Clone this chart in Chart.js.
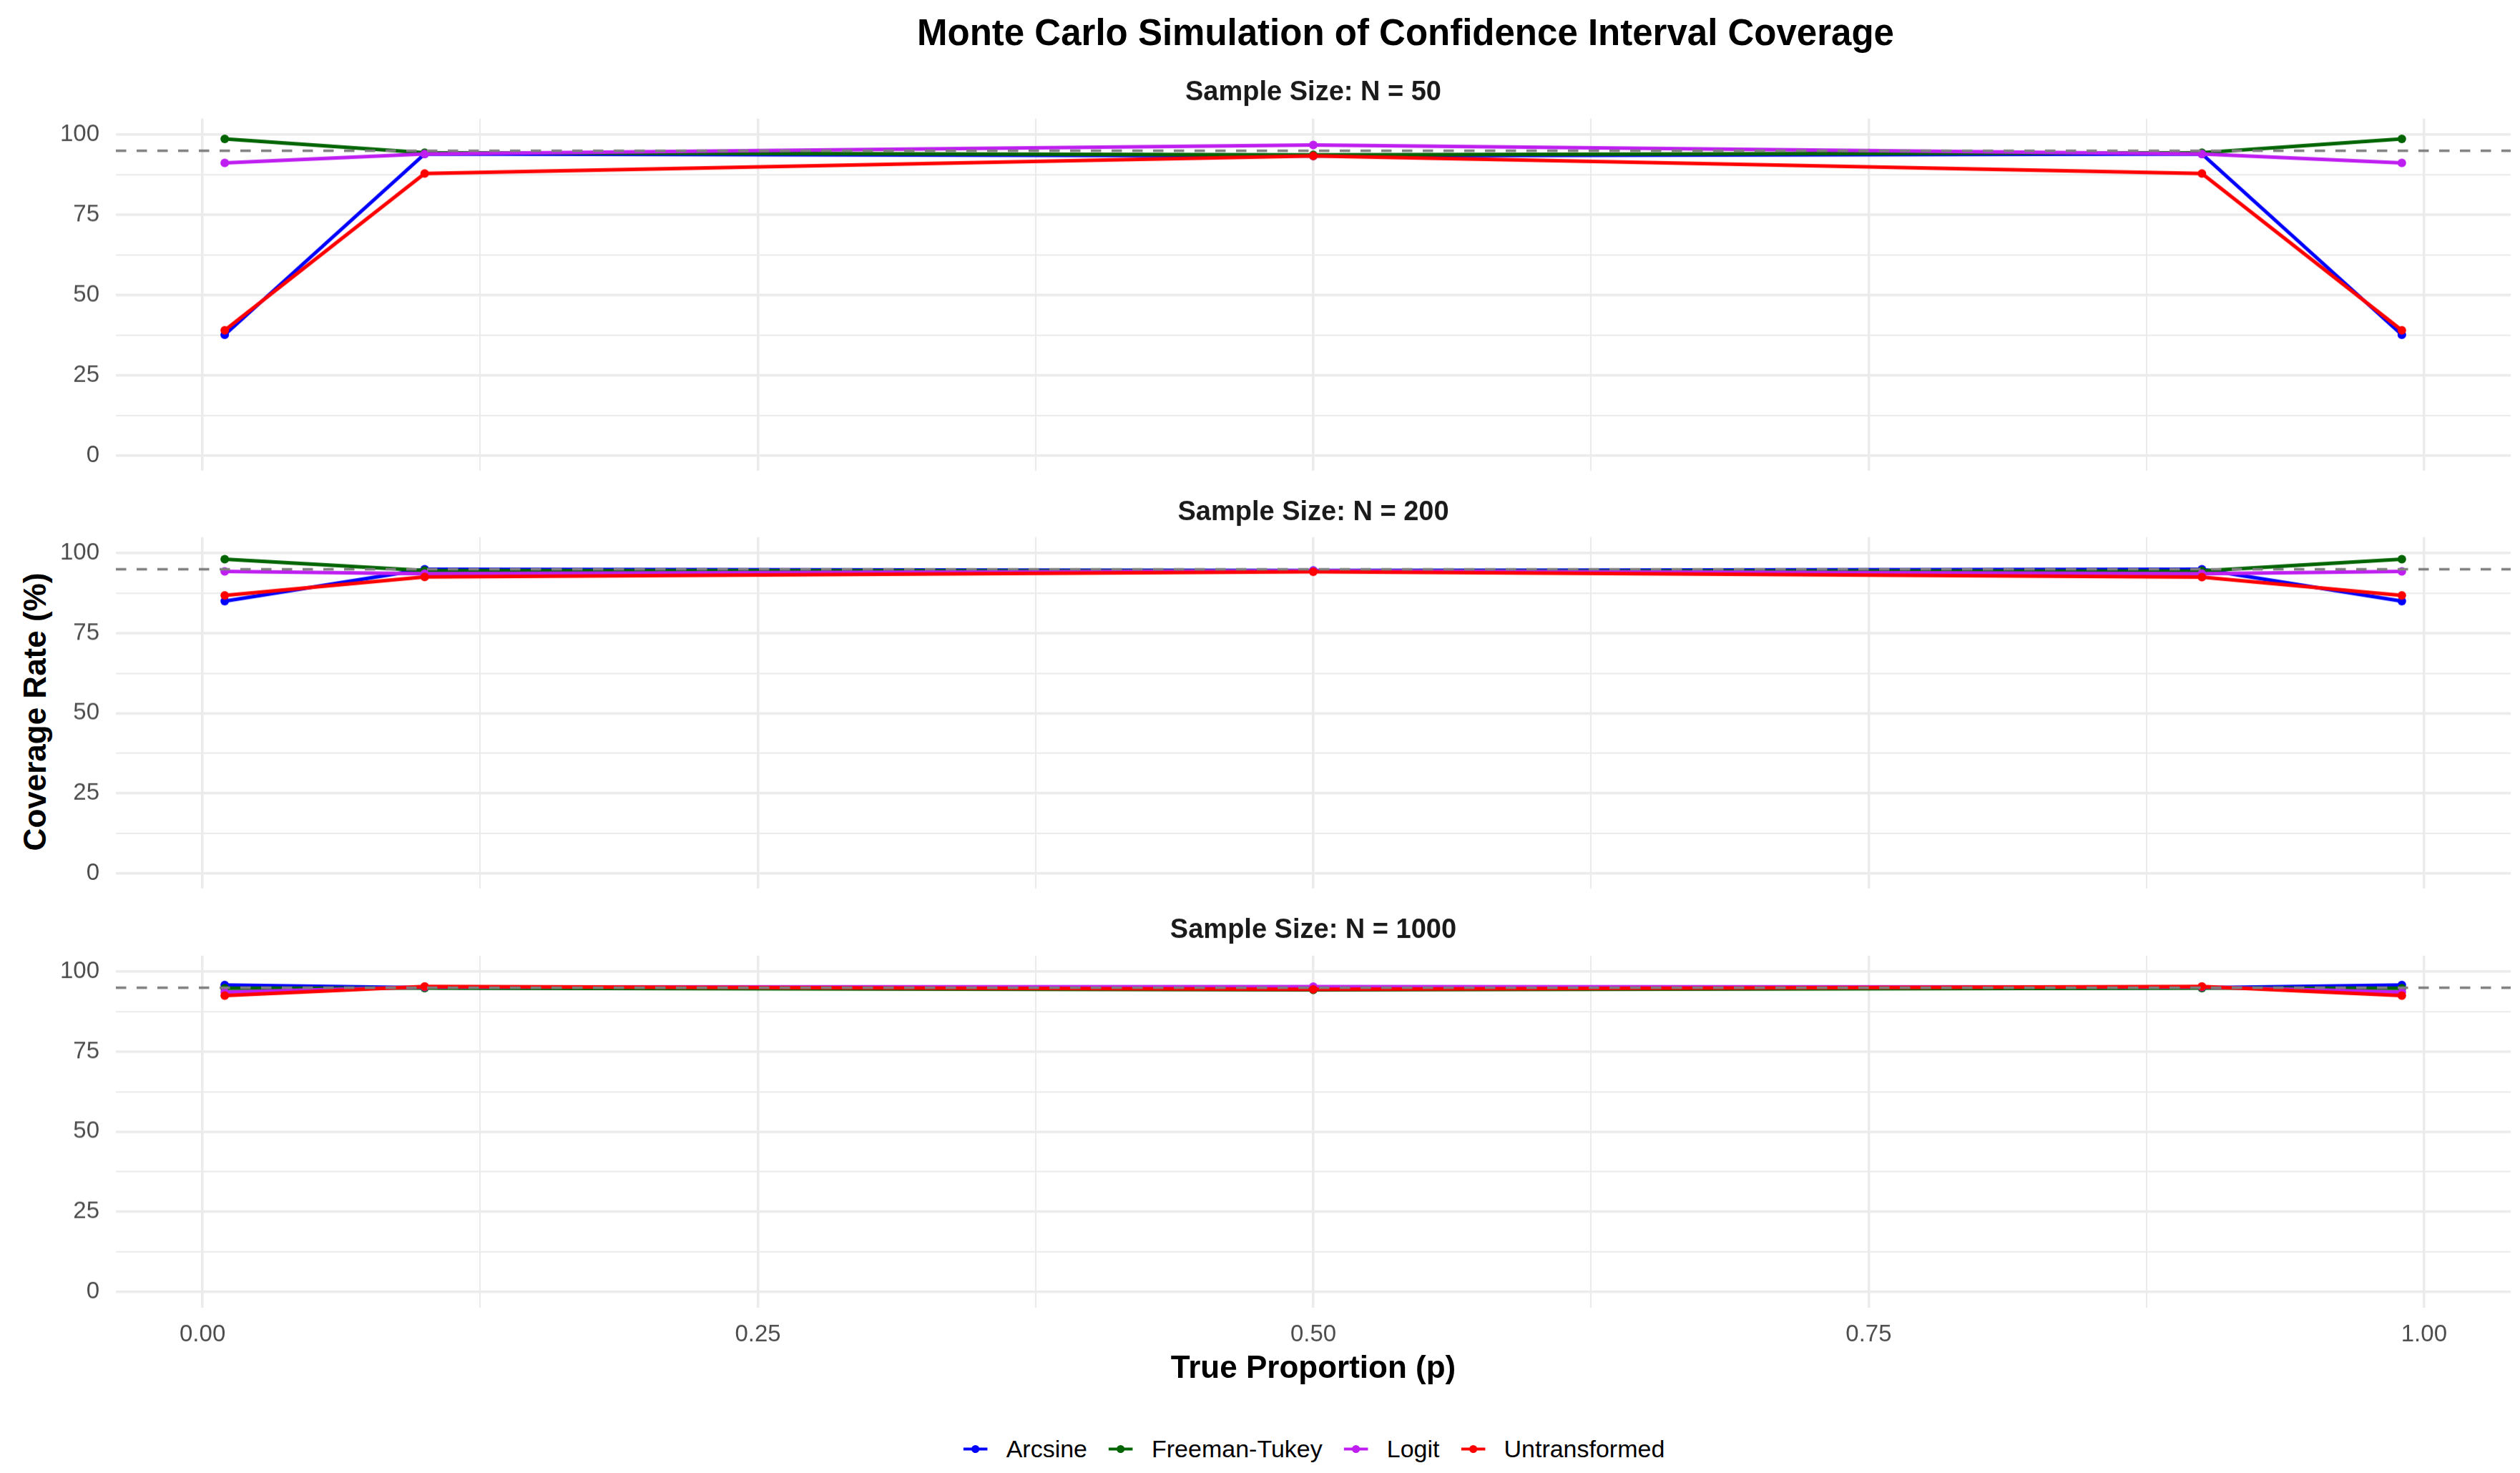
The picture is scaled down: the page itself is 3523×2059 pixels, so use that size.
<!DOCTYPE html>
<html>
<head>
<meta charset="utf-8">
<script src="https://cdn.jsdelivr.net/npm/chart.js@4.4.1/dist/chart.umd.min.js"></script>
<style>
  html, body { margin: 0; padding: 0; background: #fff; }
  body { width: 3523px; height: 2059px; position: relative; overflow: hidden;
         font-family: "Liberation Sans", Arial, sans-serif; }
  .panel { position: absolute; left: 0; width: 3523px; }
  #mainTitle { position: absolute; left: 1965px; top: 45px; transform: translate(-50%, -50%);
               font-weight: bold; font-size: 51px; white-space: nowrap; color: #000; }
  #yTitle { position: absolute; left: 49px; top: 995px; transform: translate(-50%, -50%) rotate(-90deg);
            font-weight: bold; font-size: 44px; white-space: nowrap; color: #000; }
  #legend { position: absolute; left: 1837px; top: 2025px; transform: translate(-50%, -50%);
            display: flex; align-items: center; white-space: nowrap; font-size: 34px; color: #000; }
  #legend .item { display: flex; align-items: center; margin: 0 15px; }
  #legend svg { margin-right: 26px; }
</style>
</head>
<body>
<div id="mainTitle">Monte Carlo Simulation of Confidence Interval Coverage</div>
<div id="yTitle">Coverage Rate (%)</div>
<div class="panel" id="p0"><canvas id="c0"></canvas></div>
<div class="panel" id="p1"><canvas id="c1"></canvas></div>
<div class="panel" id="p2"><canvas id="c2"></canvas></div>
<div id="legend"></div>

<script>
// true proportions simulated
const pValues = [0.01, 0.1, 0.5, 0.9, 0.99];
const sampleSizes = [50, 200, 1000];
const methods = ['Arcsine', 'Freeman-Tukey', 'Logit', 'Untransformed'];
const methodColors = ['#0000ff', '#006400', '#bf1ef0', '#ff0000'];
const targetCoverage = 95;

// coverage (%) per method, N = 50
const arcsine50       = [37.6, 94.0, 93.4, 94.0, 37.6];
const freemanTukey50  = [98.7, 94.4, 93.7, 94.4, 98.7];
const logit50         = [91.2, 94.0, 96.8, 94.0, 91.2];
const untransformed50 = [39.0, 87.9, 93.4, 87.9, 39.0];

// N = 200
const arcsine200       = [85.0, 95.0, 94.6, 95.0, 85.0];
const freemanTukey200  = [98.1, 94.6, 94.4, 94.5, 98.1];
const logit200         = [94.3, 93.6, 94.5, 93.6, 94.3];
const untransformed200 = [86.8, 92.6, 94.2, 92.5, 86.8];

// N = 1000
const arcsine1000       = [95.8, 95.0, 94.5, 95.0, 95.8];
const freemanTukey1000  = [94.8, 94.9, 94.3, 94.9, 94.8];
const logit1000         = [93.6, 95.2, 95.3, 95.2, 93.6];
const untransformed1000 = [92.5, 95.4, 94.5, 95.4, 92.5];

const seriesByN = [
  [arcsine50, freemanTukey50, logit50, untransformed50],
  [arcsine200, freemanTukey200, logit200, untransformed200],
  [arcsine1000, freemanTukey1000, logit1000, untransformed1000]
];

// panel geometry (chart area top/bottom, strip title centre)
const panelBoxes = [
  { top: 166, bottom: 658, titleY: 130 },
  { top: 751, bottom: 1242, titleY: 717 },
  { top: 1336, bottom: 1827, titleY: 1301 }
];

const FONT = '"Liberation Sans", Arial, sans-serif';
const gridColor = '#ebebeb';
const isMajorX = v => Math.abs(v * 4 - Math.round(v * 4)) < 1e-9;

const refLine = {
  id: 'refLine',
  afterDatasetsDraw(chart) {
    const { ctx, chartArea, scales } = chart;
    const y = scales.y.getPixelForValue(targetCoverage);
    ctx.save();
    ctx.strokeStyle = '#7f7f7f';
    ctx.lineWidth = 3.5;
    ctx.setLineDash([14.5, 14.5]);
    ctx.beginPath();
    ctx.moveTo(chartArea.left, y);
    ctx.lineTo(chartArea.right, y);
    ctx.stroke();
    ctx.restore();
  }
};

sampleSizes.forEach((n, i) => {
  const box = panelBoxes[i];
  const isBottom = i === sampleSizes.length - 1;
  const titleSize = 38, titleLH = titleSize * 1.2, titlePadTop = 10;
  const divTop = box.titleY - titleLH / 2 - titlePadTop;
  const titlePadBottom = box.top - (box.titleY + titleLH / 2);
  const xAxisHeight = isBottom ? 116 : 0;
  const div = document.getElementById('p' + i);
  div.style.top = divTop + 'px';
  div.style.height = (box.bottom - divTop + xAxisHeight) + 'px';

  const datasets = methods.map((m, k) => ({
    label: m,
    data: pValues.map((p, j) => ({ x: p, y: seriesByN[i][k][j] })),
    borderColor: methodColors[k],
    backgroundColor: methodColors[k],
    borderWidth: 5,
    pointRadius: 6,
    pointBorderWidth: 0,
    pointHoverRadius: 6,
    tension: 0,
    order: methods.length - 1 - k
  }));

  new Chart(document.getElementById('c' + i), {
    type: 'line',
    data: { datasets },
    plugins: [refLine],
    options: {
      responsive: true,
      maintainAspectRatio: false,
      animation: false,
      events: [],
      layout: { autoPadding: false, padding: { left: 0, right: 13, top: 0, bottom: 0 } },
      plugins: {
        legend: { display: false },
        tooltip: { enabled: false },
        title: {
          display: true,
          fullSize: false,
          text: 'Sample Size: N = ' + n,
          color: '#1a1a1a',
          font: { family: FONT, size: titleSize, weight: 'bold', lineHeight: 1.2 },
          padding: { top: titlePadTop, bottom: titlePadBottom }
        }
      },
      scales: {
        x: {
          type: 'linear',
          min: -0.039,
          max: 1.039,
          border: { display: false },
          grid: {
            color: gridColor,
            drawTicks: false,
            lineWidth: ctx => (ctx.tick && isMajorX(ctx.tick.value)) ? 3.5 : 2
          },
          ticks: {
            display: isBottom,
            stepSize: 0.125,
            includeBounds: false,
            autoSkip: false,
            maxRotation: 0,
            padding: 18,
            color: '#4d4d4d',
            font: { family: FONT, size: 33 },
            callback: v => isMajorX(v) ? v.toFixed(2) : ''
          },
          title: {
            display: isBottom,
            text: 'True Proportion (p)',
            color: '#000',
            font: { family: FONT, size: 44, weight: 'bold', lineHeight: 1.2 },
            padding: { top: 0, bottom: 4 }
          },
          afterFit: s => { s.height = xAxisHeight; s.paddingLeft = 0; s.paddingRight = 0; }
        },
        y: {
          min: -5,
          max: 105,
          border: { display: false },
          grid: {
            color: gridColor,
            drawTicks: false,
            lineWidth: ctx => (ctx.tick && ctx.tick.value % 25 === 0) ? 3.5 : 2
          },
          ticks: {
            stepSize: 12.5,
            includeBounds: false,
            autoSkip: false,
            padding: 23,
            color: '#4d4d4d',
            font: { family: FONT, size: 33 },
            callback: v => v % 25 === 0 ? v : ''
          },
          afterFit: s => { s.width = 162; s.paddingTop = 0; s.paddingBottom = 0; }
        }
      }
    }
  });
});

// legend with ggplot style key (line + point)
const legend = document.getElementById('legend');
methods.forEach((m, k) => {
  const item = document.createElement('div');
  item.className = 'item';
  item.innerHTML =
    '<svg width="34" height="14" viewBox="0 0 34 14">' +
    '<line x1="0" y1="7" x2="34" y2="7" stroke="' + methodColors[k] + '" stroke-width="4"/>' +
    '<circle cx="17" cy="7" r="5.5" fill="' + methodColors[k] + '"/></svg>' +
    '<span>' + m + '</span>';
  legend.appendChild(item);
});
</script>
</body>
</html>
